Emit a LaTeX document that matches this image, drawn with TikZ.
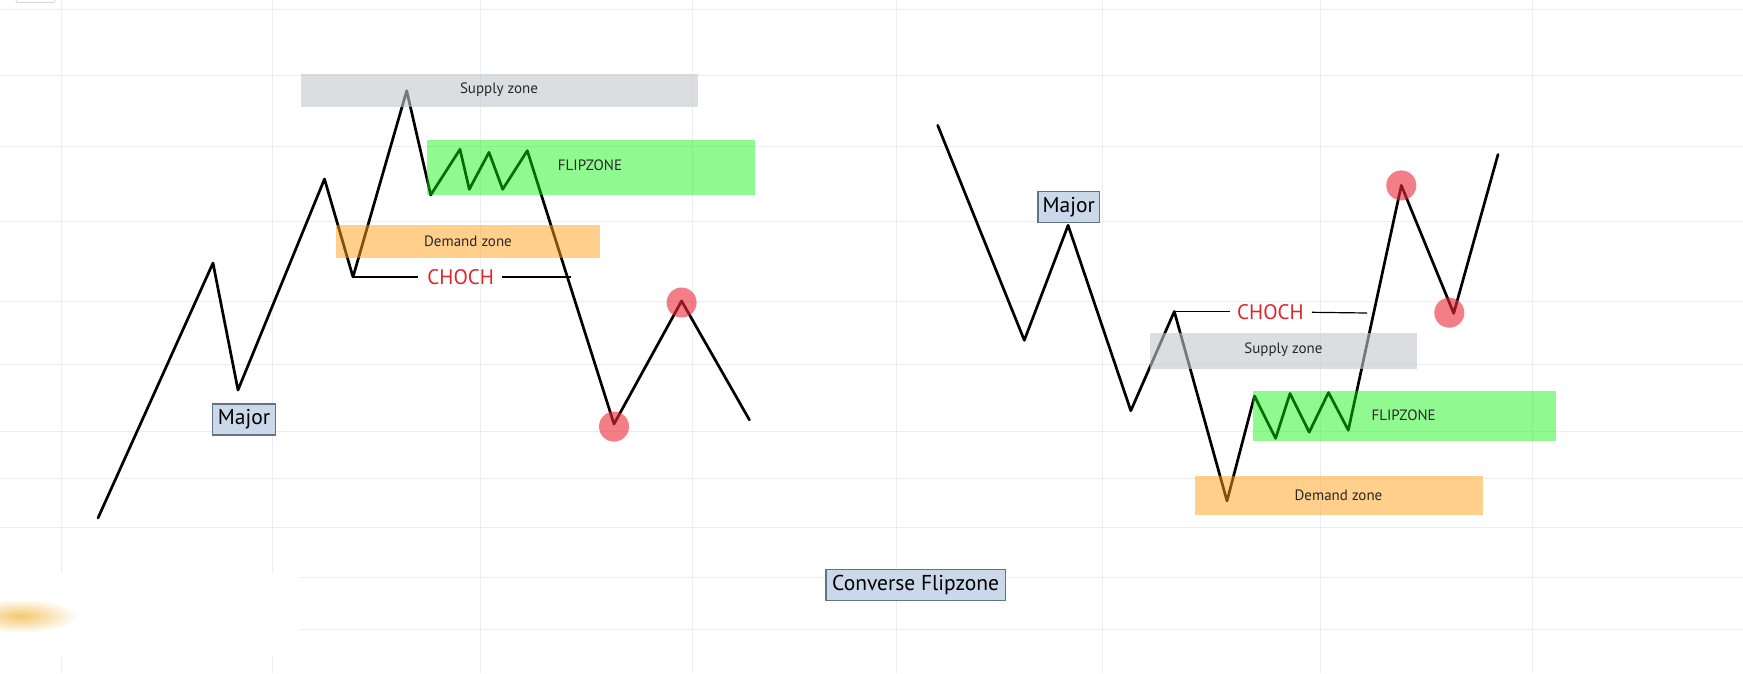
\documentclass[tikz,border=0pt]{standalone}
\usepackage{fontspec}
\setmainfont{PT Sans}
\definecolor{gridc}{RGB}{236,237,240}
\definecolor{supplyc}{RGB}{197,199,205}
\definecolor{demandc}{RGB}{255,161,25}
\definecolor{flipc}{RGB}{9,244,9}
\definecolor{chochc}{RGB}{222,38,44}
\definecolor{dotc}{RGB}{235,40,55}
\definecolor{majorfill}{RGB}{203,216,234}
\definecolor{majordraw}{RGB}{96,116,136}
\definecolor{zonetextc}{RGB}{40,40,40}
\definecolor{smudgec}{RGB}{243,200,110}
\begin{document}
\begin{tikzpicture}[x=1pt,y=-1pt,
  gridline/.style={draw=gridc, line width=1pt},
  price/.style={line width=2.7pt, line join=round, line cap=round, black},
  zone/.style={fill opacity=#1},
  zonetext/.style={text=zonetextc, font=\fontsize{15}{17}\selectfont, inner sep=0pt},
  chochtext/.style={text=chochc, font=\fontsize{21}{24}\selectfont, inner sep=0pt},
  chochline/.style={line width=1.2pt, black},
  dot/.style={fill=dotc, fill opacity=0.6},
  labelbox/.style={draw=majordraw, line width=1.3pt, fill=majorfill, inner sep=0pt,
    minimum height=31pt, font=\fontsize{21.5}{23}\selectfont, text=black}
]
\useasboundingbox (0,0) rectangle (1743,673);
\fill[white] (0,0) rectangle (1743,673);
% grid
\foreach \gx in {61,272,480,692,896,1102,1320,1532}
  \draw[gridline] (\gx,0) -- (\gx,673);
\foreach \gy in {9,75.5,146,221.5,301.3,364,431.3,478,527,577.5,629}
  \draw[gridline] (0,\gy) -- (1743,\gy);
% covered corner with smudge
\fill[white] (0,573) rectangle (300,657);
\shade[inner color=smudgec, outer color=white] (20,616) ellipse (58 and 17);
\draw[gridc!80!gray, line width=0.8pt, rounded corners=2pt] (16,-4) rectangle (55,2.5);

% ---------- left chart ----------
\path (98,518) coordinate (a0) (213,263) coordinate (a1) (238,390) coordinate (a2)
      (324.5,179) coordinate (a3) (353,277) coordinate (a4) (406.7,90.7) coordinate (a5)
      (430.7,195) coordinate (a6) (460,149.3) coordinate (a7) (469.3,189.3) coordinate (a8)
      (489,152.3) coordinate (a9) (502.7,189.3) coordinate (a10) (527.3,150.7) coordinate (a11)
      (614,424) coordinate (a12) (681.6,301) coordinate (a13) (749.5,420) coordinate (a14)
      (571,277) coordinate (a15);
\draw[price] (a0) -- (a1) -- (a2) -- (a3) -- (a4) -- (a5) -- (a6) -- (a7) -- (a8)
  -- (a9) -- (a10) -- (a11) -- (a12) -- (a13) -- (a14);

% ---------- right chart ----------
\path (937.7,125.3) coordinate (b0) (1024.3,340.3) coordinate (b1) (1068.1,225.3) coordinate (b2)
      (1130.8,410.7) coordinate (b3) (1174.3,311.5) coordinate (b4) (1227,501) coordinate (b5)
      (1254.5,396) coordinate (b6) (1275.6,438.4) coordinate (b7) (1290,393.5) coordinate (b8)
      (1309.2,432.2) coordinate (b9) (1328.5,392.5) coordinate (b10) (1348.3,430.2) coordinate (b11)
      (1401.3,185.4) coordinate (b12) (1453.7,313.3) coordinate (b13) (1498,154.5) coordinate (b14)
      (1367,313) coordinate (b15);
\draw[price] (b0) -- (b1) -- (b2) -- (b3) -- (b4) -- (b5) -- (b6) -- (b7) -- (b8)
  -- (b9) -- (b10) -- (b11) -- (b12) -- (b13) -- (b14);

% ---------- zones ----------
\fill[supplyc, zone=0.6] (301,74) rectangle (697.5,107);
\fill[flipc, zone=0.45] (426.5,139.5) rectangle (755,194.5);
\fill[demandc, zone=0.5] (335.7,224.5) rectangle (600,258);
\fill[supplyc, zone=0.6] (1150,332.5) rectangle (1416.7,369.2);
\fill[flipc, zone=0.45] (1252.8,390.8) rectangle (1556,440.8);
\fill[demandc, zone=0.5] (1194.5,475.6) rectangle (1482.5,514.5);

\node[zonetext] (sz1) at (499,89.5) {Supply zone};
\node[zonetext] (fz1) at (590,165) {FLIPZONE};
\node[zonetext] (dz1) at (468,241) {Demand zone};
\node[zonetext] (sz2) at (1283.4,350) {Supply zone};
\node[zonetext] (fz2) at (1403.6,415) {FLIPZONE};
\node[zonetext] (dz2) at (1338.5,495) {Demand zone};

% ---------- red dots ----------
\fill[dot] (614,426.6) circle (15);
\fill[dot] (681.6,302.5) circle (15);
\fill[dot] (1401.3,185.4) circle (15);
\fill[dot] (1449.3,312.7) circle (15);

% ---------- CHOCH ----------
\node[chochtext] (ch1) at (460.7,277.5) {CHOCH};
\draw[chochline] (a4) -- (418,277);
\draw[chochline] (501.5,277) -- (a15);
\node[chochtext] (ch2) at (1270.5,311.7) {CHOCH};
\draw[chochline] (b4) -- (1229.6,311.5);
\draw[chochline] (1311.8,312.3) -- (b15);

% ---------- labels ----------
\node[labelbox, minimum width=63pt] (maj1) at (244,419.5) {Major};
\node[labelbox, minimum width=61.5pt] (maj2) at (1068.7,207) {Major};
\node[labelbox, minimum width=179.5pt] (conv) at (915.6,584.7) {Converse Flipzone};
\end{tikzpicture}
\end{document}
